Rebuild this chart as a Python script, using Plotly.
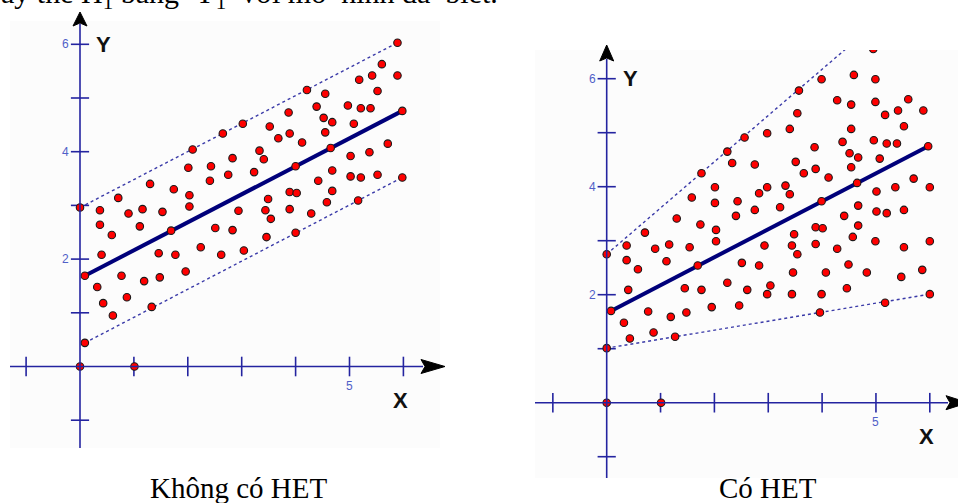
import plotly.graph_objects as go

W, H = 958, 503

# ---------------- data ----------------
left_x = [0.00, 0.37, 0.37, 0.59, 0.40, 0.71, 0.90, 1.16, 1.11, 1.30, 1.53, 1.69, 1.46, 1.77, 1.74,
          2.01, 2.03, 2.03, 2.09, 2.24, 2.51, 2.41, 2.43, 2.65, 2.62, 2.75, 2.83, 2.83, 2.94, 3.02,
          3.04, 3.23, 3.33, 3.41, 3.44, 3.49, 3.46, 3.54, 3.52, 3.68, 3.87, 3.89, 4.00, 3.89, 4.02,
          3.89, 4.00, 4.12, 4.21, 4.39, 4.55, 4.52, 4.68, 4.55, 4.65, 4.42, 4.68, 4.68, 4.58, 4.29,
          4.97, 5.08, 5.18, 5.21, 5.39, 5.42, 5.52, 5.60, 5.89, 5.89, 5.98, 5.71, 5.37, 5.02, 5.02,
          5.21, 5.52, 5.98, 5.16,
          0.09, 0.32, 0.77, 1.19, 1.48, 1.96, 0.43, 0.87, 0.61, 1.33, 0.09, 0.00, 1.01]
left_y = [2.96, 2.91, 2.64, 2.45, 2.08, 3.14, 2.85, 2.93, 2.61, 3.40, 2.88, 2.53, 2.11, 2.08, 3.30,
          3.70, 3.19, 2.98, 4.04, 2.22, 2.58, 3.46, 3.73, 4.34, 2.08, 3.57, 3.88, 2.54, 2.90, 4.52,
          2.16, 3.62, 4.02, 3.86, 2.91, 3.12, 2.41, 2.75, 4.47, 4.25, 4.73, 4.34, 3.73, 3.25, 3.23,
          2.93, 2.49, 4.17, 5.15, 4.84, 5.08, 4.63, 4.55, 4.36, 4.07, 3.46, 3.65, 3.27, 3.06, 2.85,
          4.86, 4.52, 5.34, 4.81, 4.81, 5.42, 5.13, 5.63, 6.03, 5.42, 4.76, 4.15, 3.99, 3.92, 3.54,
          3.52, 3.57, 3.52, 3.09,
          1.69, 1.48, 1.69, 1.59, 1.66, 1.77, 1.18, 1.29, 0.95, 1.11, 0.44, 0.00, 0.00]

right_x = [0.00, 0.37, 0.37, 0.58, 0.71, 0.90, 1.16, 1.11, 1.30, 1.54, 1.69, 1.58, 1.74, 1.76, 2.01,
           2.01, 2.03, 2.03, 2.24, 2.33, 2.40, 2.43, 2.56, 2.75, 2.75, 2.83, 2.93, 2.98, 2.98, 3.22,
           3.32, 3.40, 3.40, 3.54, 3.57, 3.48, 3.44, 3.54, 3.51, 3.66, 3.86, 3.88, 3.99, 3.99, 3.88,
           4.01, 3.88, 4.12, 4.28, 4.38, 4.54, 4.54, 4.51, 4.67, 4.54, 4.65, 4.41, 4.67, 4.67, 4.57,
           4.28, 4.59, 4.99, 4.95, 4.99, 4.96, 5.07, 5.17, 5.20, 5.39, 5.41, 5.52, 5.60, 5.88, 5.97,
           5.70, 5.36, 5.01, 5.01, 5.20, 5.52, 6.00, 4.99, 5.52, 6.00, 4.49, 5.86, 2.51, 2.83,
           3.46, 4.07, 4.83, 5.47, 0.40, 0.08, 0.32, 0.43, 0.77, 0.87, 1.19, 1.27, 1.45, 1.48, 1.76,
           1.95, 2.24, 2.46, 2.61, 2.98, 3.04, 3.44, 3.99, 3.96, 4.46, 5.17, 6.00, 0.00, 0.00, 1.01]
right_y = [2.75, 2.91, 2.64, 2.47, 3.15, 2.85, 2.93, 2.62, 3.41, 2.88, 2.54, 3.80, 3.30, 4.25, 3.99,
           3.70, 3.20, 2.99, 4.65, 4.44, 3.46, 3.73, 4.91, 4.41, 3.57, 3.88, 2.91, 4.99, 3.99, 3.62,
           4.02, 3.86, 5.07, 5.36, 5.78, 3.12, 2.91, 2.75, 4.46, 4.25, 4.73, 4.33, 5.99, 3.73, 3.25,
           3.23, 2.94, 4.17, 5.60, 4.83, 5.52, 5.07, 4.62, 4.54, 4.36, 4.07, 3.46, 3.65, 3.28, 3.07,
           2.85, 6.07, 5.99, 6.55, 5.57, 4.86, 4.52, 5.33, 4.80, 4.80, 5.41, 5.12, 5.62, 5.41, 4.75,
           4.15, 3.99, 3.91, 3.54, 3.51, 3.57, 3.99, 2.99, 2.88, 2.99, 2.56, 2.46, 2.59, 2.54,
           2.41, 2.41, 2.41, 2.33, 2.09, 1.70, 1.48, 1.19, 1.69, 1.30, 1.59, 1.22, 2.12, 1.67, 2.09,
           1.77, 2.22, 1.80, 2.09, 2.01, 2.17, 2.01, 2.01, 1.67, 2.12, 1.85, 2.01, 1.01, 0.00, 0.00]

# regression line and band lines (end points)
left_fit_x, left_fit_y = [0.09, 5.98], [1.69, 4.76]
left_upper_x, left_upper_y = [0.00, 5.89], [2.96, 6.03]
left_lower_x, left_lower_y = [0.09, 5.98], [0.44, 3.52]
right_fit_x, right_fit_y = [0.08, 5.97], [1.70, 4.75]
right_upper_x, right_upper_y = [0.00, 4.45], [2.75, 6.56]
right_lower_x, right_lower_y = [0.00, 6.00], [1.01, 2.01]

tick_x = [-1, 1, 2, 3, 4, 5, 6]
tick_y = [-1, 1, 2, 3, 4, 5, 6]
x_tick_labels = [5]
y_tick_labels = [2, 4, 6]
panel_titles = ["Không có HET", "Có HET"]
top_text = ("ay thế H<sub>1</sub> bằng \u00a0Y<sub>1</sub> \u00a0với mô\u00a0 hình đã\u00a0 biết.")

# ---------------- geometry ----------------
AXIS_C = "#2424a0"
LINE_C = "#00007a"
DASH_C = "#3a3aa8"
LABEL_C = "#5060c8"

panels = [
    dict(ox=80.0, oy=366.5, sx=53.9, sy=53.7, box=(10, 440, 21, 448),
         xa="x", ya="y", arrow_x=(421, 445), arrow_y=(26, 12)),
    dict(ox=606.7, oy=402.7, sx=53.85, sy=54.0, box=(535, 958, 50, 478),
         xa="x2", ya="y2", arrow_x=(946, 968), arrow_y=(61, 45)),
]

fig = go.Figure()
shapes = []
annotations = []


def px(x):
    return x / W


def py(y):
    return 1 - y / H


data_sets = [
    (left_x, left_y, left_fit_x, left_fit_y, left_upper_x, left_upper_y, left_lower_x, left_lower_y),
    (right_x, right_y, right_fit_x, right_fit_y, right_upper_x, right_upper_y, right_lower_x, right_lower_y),
]

for i, (p, d) in enumerate(zip(panels, data_sets)):
    x0, x1, y0, y1 = p["box"]
    ox, oy, sx, sy = p["ox"], p["oy"], p["sx"], p["sy"]
    xr = [(x0 - ox) / sx, (x1 - ox) / sx]
    yr = [(oy - y1) / sy, (oy - y0) / sy]
    ax_common = dict(showgrid=False, zeroline=False, showline=False, showticklabels=False,
                     ticks="", fixedrange=True)
    sfx = "" if i == 0 else "2"
    fig.update_layout(**{
        "xaxis" + sfx: dict(range=xr, domain=[x0 / W, x1 / W], anchor="y" + sfx, **ax_common),
        "yaxis" + sfx: dict(range=yr, domain=[1 - y1 / H, 1 - y0 / H], anchor="x" + sfx, **ax_common),
    })

    # axis lines (paper coordinates, allowed to pass beyond the box)
    ax0, ax1 = p["arrow_x"]
    ay0, ay1 = p["arrow_y"]
    shapes.append(dict(type="line", xref="paper", yref="paper", x0=px(x0), x1=px(ax0 + 2),
                       y0=py(oy), y1=py(oy), line=dict(color=AXIS_C, width=1.6)))
    shapes.append(dict(type="line", xref="paper", yref="paper", x0=px(ox), x1=px(ox),
                       y0=py(y1), y1=py(ay0 - 2), line=dict(color=AXIS_C, width=1.6)))
    # arrow heads
    hx = 7
    path_x = (f"M {px(ax1)},{py(oy)} L {px(ax0)},{py(oy - hx)} L {px(ax0 + 4)},{py(oy)} "
              f"L {px(ax0)},{py(oy + hx)} Z")
    path_y = (f"M {px(ox)},{py(ay1)} L {px(ox - hx)},{py(ay0)} L {px(ox)},{py(ay0 - 3)} "
              f"L {px(ox + hx)},{py(ay0)} Z")
    for pth in (path_x, path_y):
        shapes.append(dict(type="path", xref="paper", yref="paper", path=pth,
                           fillcolor="black", line=dict(color="black", width=1)))

    xa, ya = p["xa"], p["ya"]
    # tick marks
    fig.add_trace(go.Scatter(x=tick_x, y=[0] * len(tick_x), xaxis=xa, yaxis=ya, mode="markers",
                             marker=dict(symbol="line-ns", size=14, line=dict(color=AXIS_C, width=1.6)),
                             hoverinfo="skip", showlegend=False))
    fig.add_trace(go.Scatter(x=[0] * len(tick_y), y=tick_y, xaxis=xa, yaxis=ya, mode="markers",
                             marker=dict(symbol="line-ew", size=13, line=dict(color=AXIS_C, width=1.6)),
                             hoverinfo="skip", showlegend=False))

    pts_x, pts_y, fx, fy, ux, uy, lx, ly = d
    for lx_, ly_ in ((ux, uy), (lx, ly)):
        fig.add_trace(go.Scatter(x=lx_, y=ly_, xaxis=xa, yaxis=ya, mode="lines",
                                 line=dict(color=DASH_C, width=1.4, dash="3px,3px"),
                                 hoverinfo="skip", showlegend=False))
    fig.add_trace(go.Scatter(x=fx, y=fy, xaxis=xa, yaxis=ya, mode="lines",
                             line=dict(color=LINE_C, width=4),
                             hoverinfo="skip", showlegend=False))
    fig.add_trace(go.Scatter(x=pts_x, y=pts_y, xaxis=xa, yaxis=ya, mode="markers",
                             marker=dict(color="#ff0000", size=7.5, line=dict(color="#1a1a1a", width=1.1)),
                             hoverinfo="skip", showlegend=False))

    # tick labels
    for v in y_tick_labels:
        annotations.append(dict(x=0, y=v, xref=xa, yref=ya, text=str(v), showarrow=False,
                                xanchor="right", yanchor="middle", xshift=-9,
                                font=dict(family="Liberation Sans, Arial", size=12, color=LABEL_C)))
    for v in x_tick_labels:
        annotations.append(dict(x=v, y=0, xref=xa, yref=ya, text=str(v), showarrow=False,
                                xanchor="center", yanchor="middle", yshift=-19,
                                font=dict(family="Liberation Sans, Arial", size=12, color=LABEL_C)))
    # axis names
    annotations.append(dict(x=0, y=6, xref=xa, yref=ya, text="<b>Y</b>", showarrow=False,
                            xanchor="center", yanchor="middle", xshift=23.5,
                            font=dict(family="Liberation Sans, Arial", size=22, color="#111111")))
    annotations.append(dict(x=6, y=0, xref=xa, yref=ya, text="<b>X</b>", showarrow=False,
                            xanchor="center", yanchor="middle", xshift=-3, yshift=-34,
                            font=dict(family="Liberation Sans, Arial", size=22, color="#111111")))

# panel captions
annotations.append(dict(x=px(238), y=py(488), xref="paper", yref="paper", text=panel_titles[0],
                        showarrow=False, xanchor="center", yanchor="middle",
                        font=dict(family="Liberation Serif, Times New Roman", size=29, color="black")))
annotations.append(dict(x=px(768), y=py(488), xref="paper", yref="paper", text=panel_titles[1],
                        showarrow=False, xanchor="center", yanchor="middle",
                        font=dict(family="Liberation Serif, Times New Roman", size=29, color="black")))
# line of text at the very top, cut by the page edge as in the reference
annotations.append(dict(x=px(-1), y=py(-4.5), xref="paper", yref="paper", text=top_text,
                        showarrow=False, xanchor="left", yanchor="middle",
                        font=dict(family="Liberation Serif, Times New Roman", size=30, color="black")))

fig.update_layout(width=W, height=H, margin=dict(l=0, r=0, t=0, b=0),
                  paper_bgcolor="white", plot_bgcolor="#fcfcfc",
                  shapes=shapes, annotations=annotations, showlegend=False)

fig.write_html("out.html", config={"displayModeBar": False})
